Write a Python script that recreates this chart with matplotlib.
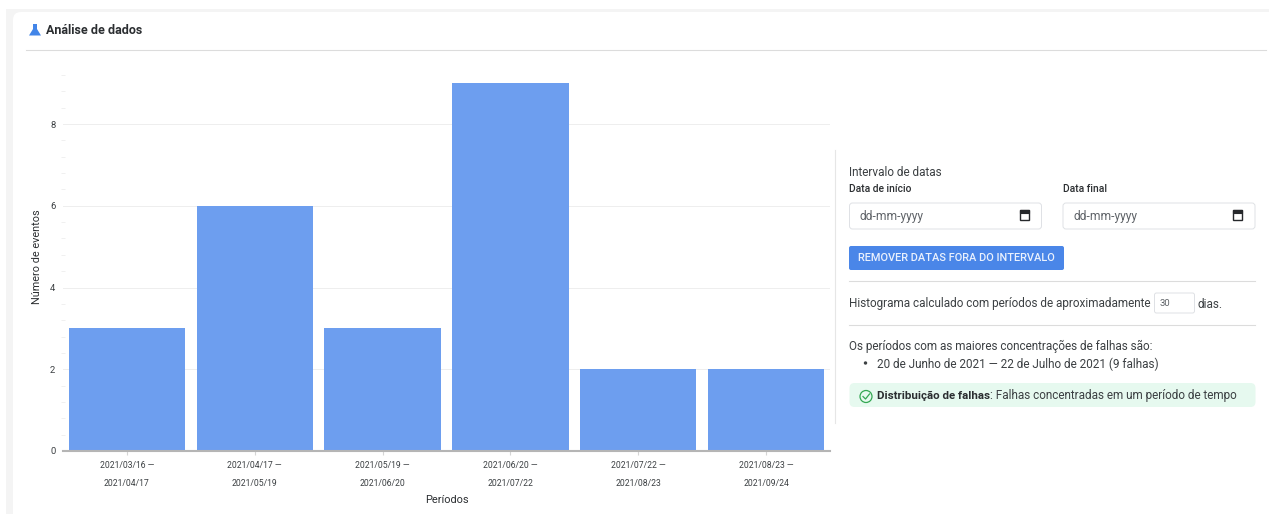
import matplotlib
matplotlib.use('Agg')
import matplotlib.pyplot as plt
from matplotlib.patches import FancyBboxPatch, Rectangle, Circle, Polygon

plt.rcParams['font.family'] = ['Roboto', 'DejaVu Sans']

W, H = 1269, 514

periods = ['2021/03/16 —\n2021/04/17', '2021/04/17 —\n2021/05/19', '2021/05/19 —\n2021/06/20',
           '2021/06/20 —\n2021/07/22', '2021/07/22 —\n2021/08/23', '2021/08/23 —\n2021/09/24']
events = [3, 6, 3, 9, 2, 2]
major_ticks = [0, 2, 4, 6, 8]
minor_ticks = [0.4, 0.8, 1.2, 1.6, 2.4, 2.8, 3.2, 3.6, 4.4, 4.8, 5.2, 5.6, 6.4, 6.8, 7.2, 7.6, 8.4, 8.8, 9.2]

fig = plt.figure(figsize=(W / 100, H / 100), dpi=100, facecolor='white')

# page layer in pixel coords
ui = fig.add_axes([0, 0, 1, 1], zorder=0)
ui.set_xlim(0, W)
ui.set_ylim(H, 0)
ui.axis('off')


def box(x, y, w, h, fc='white', ec='none', r=3, lw=0.7):
    ui.add_patch(FancyBboxPatch((x + r, y + r), w - 2 * r, h - 2 * r, boxstyle=f'round,pad={r}',
                                fc=fc, ec=ec, lw=lw))


def px(size):
    return size * 0.72


def txt(x, y, s, size=11.7, color='#3c4043', **kw):
    ui.text(x, y + 1, s, fontsize=px(size), color=color, va='center', **kw)


def calendar(x, y):
    ui.add_patch(Rectangle((x, y), 9.5, 10, fc='none', ec='#26282b', lw=1))
    ui.add_patch(Rectangle((x, y), 9.5, 2.5, fc='#26282b', ec='#26282b', lw=0.8))


# card background
ui.add_patch(Rectangle((6, 9), W - 6, H - 9, fc='#f4f4f4', ec='none'))
box(13, 12, W, H, fc='white', r=8)

# header
ui.add_patch(Polygon([(29, 35.5), (33, 29), (33, 24), (37, 24), (37, 29), (41, 35.5)], fc='#4285e8', ec='none'))
txt(46, 29.5, 'Análise de dados', size=12.5, color='#2b2e31', fontweight='bold')
ui.plot([26, 1266], [50, 50], color='#dcdcdc', lw=0.8)

# side panel
ui.plot([835, 835], [150, 423], color='#e6e6e6', lw=0.8)
txt(849, 171, 'Intervalo de datas')
txt(849, 188.5, 'Data de início', size=10.3, color='#2b2e31', fontweight='medium')
txt(1063, 188.5, 'Data final', size=10.3, color='#2b2e31', fontweight='medium')
box(849.5, 203, 192, 26, ec='#dfe1e5', r=3)
box(1063, 203, 192, 26, ec='#dfe1e5', r=3)
txt(859, 215.5, 'dd-mm-yyyy', size=12, color='#5f6368')
txt(1073, 215.5, 'dd-mm-yyyy', size=12, color='#5f6368')
calendar(1019.5, 210)
calendar(1232.5, 210)
box(849, 246, 215, 24, fc='#4a86e8', r=2)
txt(858.5, 257, 'REMOVER DATAS FORA DO INTERVALO', size=11, color='#eaf1fd', fontweight='medium')
ui.plot([849, 1255], [281, 281], color='#dcdcdc', lw=0.8)
txt(849, 303, 'Histograma calculado com períodos de aproximadamente')
box(1154.5, 293, 40, 20, ec='#dfe1e5', r=2)
txt(1160, 302.5, '30', size=9.5, color='#5f6368')
txt(1198, 303, 'dias.')
ui.plot([849, 1255], [325, 325], color='#dcdcdc', lw=0.8)
txt(849, 345, 'Os períodos com as maiores concentrações de falhas são:')
ui.add_patch(Circle((865.5, 363), 1.7, fc='#3c4043', ec='none'))
txt(877, 363, '20 de Junho de 2021 — 22 de Julho de 2021 (9 falhas)')
box(849.5, 383, 406, 24, fc='#e6f9ef', r=5)
ui.add_patch(Circle((866, 396.5), 6, fc='none', ec='#34a853', lw=0.9))
ui.plot([863, 865.5, 869.5], [396.5, 399, 394], color='#34a853', lw=0.9)
txt(877, 394.5, 'Distribuição de falhas', size=11.5, color='#2b2e31', fontweight='bold')
txt(990, 394.5, ': Falhas concentradas em um período de tempo')

# chart
ax = fig.add_axes([63 / W, 1 - 451 / H, 767 / W, 376 / H], zorder=1)
ax.patch.set_alpha(0)
x = list(range(len(events)))
ax.bar(x, events, width=0.91, color='#6d9eef', zorder=2)
ax.set_xlim(-0.5, 5.5)
ax.set_ylim(0, 376 / 40.875)
ax.set_xticks(x)
ax.set_xticklabels(periods, fontsize=px(8.7), color='#3c4043', linespacing=2.2)
ax.set_yticks(major_ticks)
ax.set_yticks(minor_ticks, minor=True)
ax.tick_params(axis='y', which='major', length=0, pad=5.5, labelsize=px(9.5), labelcolor='#3c4043')
ax.tick_params(axis='y', which='minor', length=3, color='#eeeeee', direction='inout', left=True)
ax.tick_params(axis='x', length=3, color='#d5d5d5', pad=4.5)
ax.grid(axis='y', which='major', color='#eeeeee', lw=0.7, zorder=0)
for s in ['top', 'right', 'left']:
    ax.spines[s].set_visible(False)
ax.spines['bottom'].set_color('#b5b5b5')
ax.spines['bottom'].set_linewidth(1.5)
ax.spines['bottom'].set_zorder(3)
ui.text(37, 257, 'Número de eventos', fontsize=px(10.9), color='#2b2e31', rotation=90, ha='center', va='center')
ui.text(446.5, 500, 'Períodos', fontsize=px(11), color='#2b2e31', ha='center', va='center')

fig.savefig('out.png', dpi=100)
